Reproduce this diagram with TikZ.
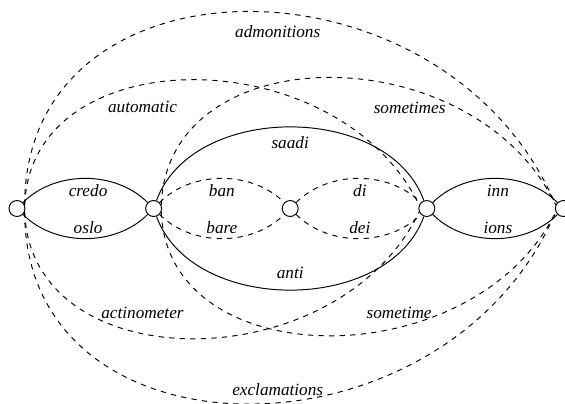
\documentclass[tikz,border=0pt]{standalone}
\usepackage{fontspec}
\setmainfont{Liberation Serif}

\begin{document}
\begin{tikzpicture}[
        x=0.02cm, y=0.02cm,
        font=\fontsize{9.8}{12}\selectfont\itshape,
        state/.style={
            draw,
            circle,
            minimum size=9.1pt,
            inner sep=0pt,
            line width=0.55pt
        },
        arc/.style={
            line width=0.55pt
        },
        altarc/.style={
            arc,
            dashed
        },
        wordlabel/.style={
            inner sep=3pt
        }
    ]

    % one unit is one pixel of the lattice, the states sit on y=0
    \useasboundingbox (0,-194.5) rectangle (565,208.5);

    \foreach \i/\x in {0/17, 1/153.6, 2/290.2, 3/426.8, 4/563.4}
        \node[state] (n\i) at (\x,0) {};

    % short arcs between neighbours
    \draw[arc] (n0) .. controls +(45:54) and +(135:54) .. (n1)
        node[wordlabel, pos=0.52, below=0.5pt] {credo};
    \draw[arc] (n0) .. controls +(-45:54) and +(-135:54) .. (n1)
        node[wordlabel, pos=0.52, above=-0.5pt] {oslo};

    \draw[altarc] (n1) .. controls +(45:54) and +(135:54) .. (n2)
        node[wordlabel, pos=0.5, below=0.5pt] {ban};
    \draw[altarc] (n1) .. controls +(-45:54) and +(-135:54) .. (n2)
        node[wordlabel, pos=0.5, above=-0.5pt] {bare};

    \draw[altarc] (n2) .. controls +(45:54) and +(135:54) .. (n3)
        node[wordlabel, pos=0.51, below=0.5pt] {di};
    \draw[altarc] (n2) .. controls +(-45:54) and +(-135:54) .. (n3)
        node[wordlabel, pos=0.51, above=-0.5pt] {dei};

    \draw[arc] (n3) .. controls +(45:54) and +(135:54) .. (n4)
        node[wordlabel, pos=0.52, below=0.5pt] {inn};
    \draw[arc] (n3) .. controls +(-45:54) and +(-135:54) .. (n4)
        node[wordlabel, pos=0.52, above=-0.5pt] {ions};

    % arcs over two states
    \draw[arc] (n1) .. controls +(70:113) and +(110:113) .. (n3)
        node[wordlabel, pos=0.5, below=2pt] {saadi};
    \draw[arc] (n1) .. controls +(-70:113) and +(-110:113) .. (n3)
        node[wordlabel, pos=0.5, above=3pt] {anti};

    % arcs over three states, steeper at their left end
    \draw[altarc] (n0.25) .. controls +(6,167) and +(-82,167) .. (n3.155)
        node[wordlabel, pos=0.4, below=6pt] {automatic};
    \draw[altarc] (n0.-25) .. controls +(6,-169) and +(-82,-169) .. (n3.-155)
        node[wordlabel, pos=0.4, above=5.5pt] {actinometer};

    \draw[altarc] (n1.25) .. controls +(6,170) and +(-82,170) .. (n4.155)
        node[wordlabel, pos=0.65, below=4pt] {sometimes};
    \draw[altarc] (n1.-25) .. controls +(6,-165) and +(-82,-165) .. (n4.-155)
        node[wordlabel, pos=0.63, above=2pt] {sometime};

    % outer arcs over the whole lattice
    \draw[altarc] (n0.25) .. controls +(0,258) and +(-110,258) .. (n4.155)
        node[wordlabel, pos=0.54, below=4pt] {admonitions};
    \draw[altarc] (n0.-25) .. controls +(0,-256) and +(-110,-256) .. (n4.-155)
        node[wordlabel, pos=0.54, above=1pt] {exclamations};

\end{tikzpicture}
\end{document}
